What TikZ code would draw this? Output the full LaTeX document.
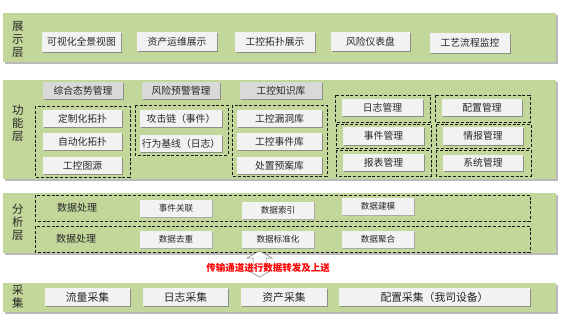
\documentclass[tikz,border=0pt]{standalone}
\usepackage{fontspec}
\setmainfont{Noto Sans CJK SC}
\usetikzlibrary{shadows}
\definecolor{bandgreen}{HTML}{C4D79B}
\definecolor{cellfill}{HTML}{F2F2F2}
\definecolor{tabfill}{HTML}{D9D9D9}
\definecolor{alertred}{HTML}{FF0000}
\tikzset{
  band/.style={fill=bandgreen, drop shadow={shadow xshift=1.5pt, shadow yshift=-1.5pt, fill=black!45, opacity=0.6}},
  cell/.style={fill=cellfill, inner sep=0pt, font=\fontsize{9.8}{11}\selectfont, text=black!85,
    drop shadow={shadow xshift=1.2pt, shadow yshift=-1.2pt, fill=black!50, opacity=0.8}},
  tabcell/.style={cell, fill=tabfill},
  flatcell/.style={cell, font=\fontsize{8.6}{10}\selectfont,
    drop shadow={shadow xshift=0.8pt, shadow yshift=-0.8pt, fill=black!25, opacity=0.6}},
  bigcell/.style={cell, font=\fontsize{10.8}{12}\selectfont},
  grp/.style={draw=black!90, line width=0.95pt, dash pattern=on 3pt off 1.8pt},
  layerlabel/.style={font=\fontsize{11.5}{13}\selectfont, align=center, inner sep=0pt, text=black!85},
  rowlabel/.style={font=\fontsize{10}{11}\selectfont, inner sep=0pt, text=black!85},
  relaytext/.style={font=\fontsize{9.5}{11}\selectfont\bfseries, text=alertred, inner sep=0pt},
  relayarrow/.style={draw=black!50, line width=0.5pt, fill=white}
}
% \mkcell[style]{name}{x1}{y1}{x2}{y2}{text}
\newcommand\mkcell[7][cell]{\node[#1, minimum width={#5-#3}, minimum height={#6-#4}] (#2) at ({(#3+#5)/2},{(#4+#6)/2}) {#7};}
\begin{document}
\begin{tikzpicture}[x=1pt, y=-1pt]
\useasboundingbox (0,0) rectangle (562,333);
\fill[white] (0,0) rectangle (562,333);

% ---------- presentation layer ----------
\path[band] (3,13) rectangle (556,62);
\node[layerlabel] (lshow) at (18,39) {展\\示\\层};
\mkcell{v1}{42}{32}{121}{52}{可视化全景视图}
\mkcell{v2}{137}{32}{217}{51}{资产运维展示}
\mkcell{v3}{235}{32}{315}{52}{工控拓扑展示}
\mkcell{v4}{331}{32}{410}{51}{风险仪表盘}
\mkcell{v5}{430}{33}{510}{53}{工艺流程监控}

% ---------- function layer ----------
\path[band] (3,80) rectangle (556,179);
\node[layerlabel] (lfunc) at (18,123) {功\\能\\层};
\mkcell[tabcell]{t1}{43}{82}{123}{99}{综合态势管理}
\mkcell[tabcell]{t2}{142}{82}{220}{99}{风险预警管理}
\mkcell[tabcell]{t3}{240}{82}{322}{99}{工控知识库}

\draw[grp] (35,106) rectangle (130,177);
\mkcell{f11}{43}{110}{122}{127}{定制化拓扑}
\mkcell{f12}{43}{133}{122}{150}{自动化拓扑}
\mkcell{f13}{43}{157}{122}{174}{工控图源}

\draw[grp] (135,105) rectangle (228,155);
\mkcell{f21}{140}{110}{222}{127}{攻击链（事件）}
\mkcell{f22}{140}{135}{222}{152}{行为基线（日志）}

\draw[grp] (232,105) rectangle (327,176);
\mkcell{f31}{237}{110}{322}{127}{工控漏洞库}
\mkcell{f32}{237}{133}{322}{150}{工控事件库}
\mkcell{f33}{237}{157}{322}{174}{处置预案库}

\draw[grp] (335,95) rectangle (430,122);
\mkcell{m1}{342}{99}{423}{116}{日志管理}
\draw[grp] (336,124) rectangle (431,148);
\mkcell{m2}{343}{127}{424}{145}{事件管理}
\draw[grp] (336,150) rectangle (431,176);
\mkcell{m3}{343}{154}{424}{171}{报表管理}

\draw[grp] (435,95) rectangle (530,122);
\mkcell{m4}{442}{99}{522}{116}{配置管理}
\draw[grp] (436,124) rectangle (531,148);
\mkcell{m5}{443}{127}{523}{145}{情报管理}
\draw[grp] (436,150) rectangle (531,176);
\mkcell{m6}{443}{155}{523}{171}{系统管理}

% ---------- analysis layer ----------
\path[band] (3,193) rectangle (556,253);
\node[layerlabel] (lana) at (18,222) {分\\析\\层};
\draw[grp] (35,195) rectangle (530,221);
\draw[grp] (35,226) rectangle (530,252);
\node[rowlabel] (r1) at (77,208) {数据处理};
\node[rowlabel] (r2) at (76,239) {数据处理};
\mkcell[flatcell]{a11}{140}{200}{212}{217}{事件关联}
\mkcell[flatcell]{a12}{242}{202}{314}{219}{数据索引}
\mkcell[flatcell]{a13}{342}{198}{414}{215}{数据建模}
\mkcell[flatcell]{a21}{140}{231}{212}{248}{数据去重}
\mkcell[flatcell]{a22}{242}{231}{314}{248}{数据标准化}
\mkcell[flatcell]{a23}{342}{231}{414}{248}{数据聚合}

% ---------- relay between collection and analysis ----------
\draw[relayarrow] (259.5,251) -- (272,258) -- (266,258) -- (266,270) -- (272,270)
  -- (259.5,277) -- (247,270) -- (253,270) -- (253,258) -- (247,258) -- cycle;
\node[relaytext] (relay) at (268,267.5) {传输通道进行数据转发及上送};

% ---------- collection layer ----------
\path[band] (3,283) rectangle (556,312);
\node[layerlabel] (lcol) at (18,297) {采\\集};
\mkcell[bigcell]{c1}{45}{288}{130}{306}{流量采集}
\mkcell[bigcell]{c2}{143}{288}{228}{306}{日志采集}
\mkcell[bigcell]{c3}{241}{288}{327}{306}{资产采集}
\mkcell[bigcell]{c4}{339}{288}{530}{306}{配置采集（我司设备）}
\end{tikzpicture}
\end{document}
